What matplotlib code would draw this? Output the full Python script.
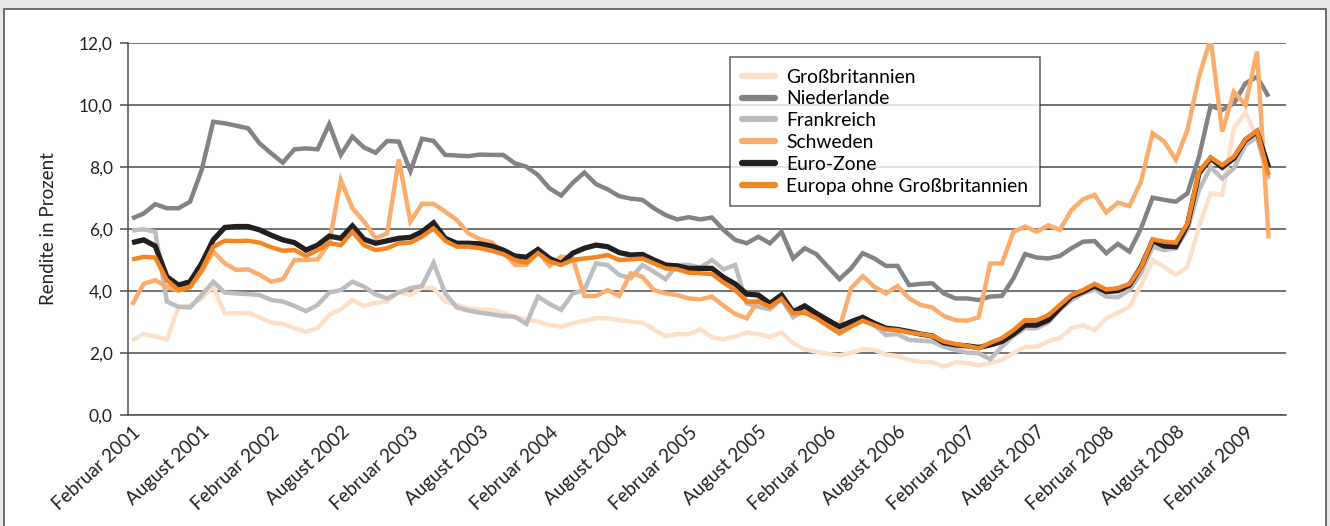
import matplotlib
matplotlib.use("Agg")
import matplotlib.pyplot as plt
from matplotlib.patches import Rectangle
from matplotlib.ticker import FuncFormatter

W, H, DPI = 1330, 526, 100

# monthly values Feb 2001 .. Apr 2009
n_months = 99
tick_labels = ["Februar 2001", "August 2001", "Februar 2002", "August 2002",
               "Februar 2003", "August 2003", "Februar 2004", "August 2004",
               "Februar 2005", "August 2005", "Februar 2006", "August 2006",
               "Februar 2007", "August 2007", "Februar 2008", "August 2008",
               "Februar 2009"]

grossbritannien = [
    2.40, 2.61, 2.53, 2.44, 3.49, 3.52, 3.76, 4.14, 3.28, 3.28,
    3.30, 3.15, 2.98, 2.94, 2.80, 2.69, 2.80, 3.23, 3.41, 3.71,
    3.52, 3.62, 3.66, 3.98, 3.87, 4.12, 4.09, 3.66, 3.55, 3.44,
    3.39, 3.39, 3.30, 3.15, 3.09, 3.01, 2.90, 2.85, 2.96, 3.04,
    3.12, 3.12, 3.06, 3.01, 2.98, 2.76, 2.55, 2.61, 2.61, 2.76,
    2.51, 2.44, 2.53, 2.66, 2.61, 2.52, 2.66, 2.31, 2.12, 2.04,
    1.97, 1.92, 2.01, 2.12, 2.10, 1.95, 1.90, 1.78, 1.72, 1.70,
    1.56, 1.70, 1.68, 1.60, 1.68, 1.78, 2.00, 2.20, 2.20, 2.38,
    2.48, 2.80, 2.90, 2.74, 3.12, 3.30, 3.49, 4.19, 5.00, 4.78,
    4.52, 4.78, 6.08, 7.15, 7.10, 9.25, 9.75, 8.98, 7.58]

niederlande = [
    6.34, 6.50, 6.80, 6.67, 6.67, 6.88, 7.90, 9.46, 9.41, 9.33,
    9.25, 8.76, 8.44, 8.14, 8.57, 8.60, 8.57, 9.38, 8.39, 8.98,
    8.63, 8.46, 8.84, 8.82, 7.87, 8.91, 8.84, 8.39, 8.37, 8.35,
    8.40, 8.39, 8.39, 8.12, 8.01, 7.74, 7.31, 7.08, 7.49, 7.82,
    7.45, 7.28, 7.06, 6.98, 6.94, 6.67, 6.45, 6.31, 6.38, 6.31,
    6.37, 5.97, 5.65, 5.54, 5.75, 5.54, 5.91, 5.05, 5.38, 5.19,
    4.78, 4.38, 4.73, 5.22, 5.05, 4.81, 4.81, 4.19, 4.23, 4.25,
    3.92, 3.76, 3.76, 3.71, 3.82, 3.84, 4.41, 5.19, 5.08, 5.05,
    5.13, 5.38, 5.59, 5.61, 5.22, 5.52, 5.27, 6.02, 7.01, 6.94,
    6.88, 7.15, 8.33, 9.97, 9.84, 10.05, 10.70, 10.91, 10.27]

frankreich = [
    5.95, 5.99, 5.91, 3.66, 3.49, 3.47, 3.87, 4.30, 3.95, 3.92,
    3.90, 3.87, 3.71, 3.66, 3.52, 3.35, 3.55, 3.95, 4.03, 4.30,
    4.14, 3.89, 3.76, 3.95, 4.09, 4.16, 4.91, 3.92, 3.47, 3.37,
    3.30, 3.25, 3.19, 3.17, 2.94, 3.82, 3.58, 3.39, 3.92, 4.03,
    4.89, 4.84, 4.52, 4.41, 4.84, 4.62, 4.38, 4.84, 4.84, 4.76,
    5.00, 4.70, 4.84, 3.60, 3.49, 3.41, 3.74, 3.15, 3.39, 3.19,
    2.96, 2.76, 2.90, 3.09, 2.90, 2.58, 2.61, 2.42, 2.40, 2.37,
    2.20, 2.10, 2.01, 1.99, 1.80, 2.20, 2.55, 2.80, 2.80, 2.98,
    3.40, 3.71, 3.92, 4.05, 3.82, 3.80, 4.03, 4.57, 5.43, 5.32,
    5.38, 5.97, 7.26, 7.99, 7.63, 7.96, 8.71, 8.96, 7.63]

schweden = [
    3.55, 4.23, 4.35, 4.14, 4.01, 4.14, 4.62, 5.27, 4.89, 4.68,
    4.70, 4.52, 4.30, 4.38, 5.00, 5.00, 5.02, 5.54, 7.58, 6.67,
    6.24, 5.70, 5.86, 8.25, 6.24, 6.81, 6.81, 6.56, 6.29, 5.86,
    5.67, 5.57, 5.27, 4.84, 4.84, 5.27, 4.81, 5.11, 5.05, 3.84,
    3.84, 4.03, 3.84, 4.57, 4.46, 4.03, 3.92, 3.87, 3.76, 3.73,
    3.82, 3.52, 3.26, 3.12, 3.71, 3.49, 3.82, 3.30, 3.35, 3.15,
    2.90, 2.80, 4.09, 4.48, 4.14, 3.92, 4.16, 3.76, 3.55, 3.47,
    3.19, 3.06, 3.04, 3.15, 4.89, 4.89, 5.91, 6.08, 5.91, 6.12,
    5.97, 6.61, 6.96, 7.10, 6.53, 6.85, 6.74, 7.53, 9.09, 8.82,
    8.23, 9.19, 10.91, 12.15, 9.14, 10.43, 10.00, 11.72, 5.70]

euro_zone = [
    5.56, 5.65, 5.45, 4.46, 4.19, 4.30, 4.89, 5.65, 6.05, 6.08,
    6.08, 5.97, 5.80, 5.65, 5.56, 5.32, 5.48, 5.77, 5.70, 6.10,
    5.67, 5.54, 5.62, 5.70, 5.73, 5.91, 6.20, 5.70, 5.54, 5.54,
    5.52, 5.45, 5.32, 5.13, 5.09, 5.34, 5.05, 4.89, 5.22, 5.38,
    5.48, 5.43, 5.24, 5.16, 5.18, 5.00, 4.84, 4.81, 4.73, 4.73,
    4.73, 4.44, 4.23, 3.90, 3.87, 3.60, 3.87, 3.33, 3.52, 3.28,
    3.06, 2.85, 3.01, 3.15, 2.96, 2.80, 2.76, 2.69, 2.61, 2.55,
    2.33, 2.26, 2.23, 2.18, 2.26, 2.37, 2.61, 2.90, 2.90, 3.06,
    3.45, 3.82, 3.98, 4.16, 3.98, 4.01, 4.19, 4.78, 5.62, 5.45,
    5.43, 6.13, 7.80, 8.28, 7.99, 8.28, 8.87, 9.14, 7.99]

europa_ohne_gb = [
    5.02, 5.10, 5.08, 4.35, 4.03, 4.12, 4.68, 5.43, 5.62, 5.61,
    5.62, 5.56, 5.41, 5.30, 5.32, 5.13, 5.32, 5.54, 5.48, 5.91,
    5.48, 5.32, 5.38, 5.54, 5.56, 5.75, 6.02, 5.62, 5.43, 5.43,
    5.38, 5.30, 5.19, 5.00, 4.91, 5.22, 4.95, 4.84, 5.00, 5.05,
    5.09, 5.16, 5.00, 5.02, 5.05, 4.89, 4.73, 4.70, 4.59, 4.57,
    4.55, 4.27, 4.03, 3.66, 3.66, 3.49, 3.75, 3.28, 3.30, 3.12,
    2.87, 2.63, 2.85, 3.04, 2.90, 2.76, 2.74, 2.66, 2.61, 2.55,
    2.37, 2.29, 2.23, 2.15, 2.33, 2.48, 2.74, 3.06, 3.06, 3.22,
    3.55, 3.87, 4.03, 4.23, 4.05, 4.09, 4.23, 4.76, 5.67, 5.59,
    5.56, 6.18, 7.85, 8.31, 8.06, 8.33, 8.89, 9.17, 7.74]

series = [
    ("Großbritannien", grossbritannien, "#fde0c9", 3.2),
    ("Niederlande", niederlande, "#838385", 3.2),
    ("Frankreich", frankreich, "#bdbdc0", 3.2),
    ("Schweden", schweden, "#fbad6d", 3.2),
    ("Euro-Zone", euro_zone, "#231f20", 3.8),
    ("Europa ohne Großbritannien", europa_ohne_gb, "#f28625", 3.2),
]

plt.rcParams['font.family'] = ['Lato', 'DejaVu Sans']

fig = plt.figure(figsize=(W / DPI, H / DPI), dpi=DPI, facecolor="#e6e7e8")

# white panel with thin frame, as in the source page
fig.patches.append(Rectangle((4 / W, -0.02), (1326 - 4) / W, (H - 9) / H + 0.02,
                             transform=fig.transFigure, facecolor="white",
                             edgecolor="#555555", lw=1.2, zorder=-10))

ax = fig.add_axes([128 / W, (H - 415) / H, (1286 - 128) / W, (415 - 43) / H])
ax.set_facecolor("none")

x = list(range(n_months))
for name, vals, col, lw in series:
    ax.plot(x, vals, color=col, lw=lw, label=name, solid_joinstyle="miter",
            solid_capstyle="butt", zorder=3)

ax.set_xlim(-0.35, 99.5)
ax.set_ylim(0, 12)
ax.set_yticks(range(0, 13, 2))
ax.yaxis.set_major_formatter(FuncFormatter(lambda v, p: f"{v:.1f}".replace(".", ",")))
ax.grid(axis="y", color="#4d4d4d", lw=1.1, zorder=1)
ax.set_axisbelow(True)

for s in ["top", "right"]:
    ax.spines[s].set_visible(False)
ax.spines["left"].set_color("#4d4d4d")
ax.spines["bottom"].set_color("#4d4d4d")
ax.spines["left"].set_linewidth(1.1)
ax.spines["bottom"].set_linewidth(1.1)

ax.tick_params(axis="y", length=6, width=1.1, color="#4d4d4d", labelsize=12.5,
               pad=5, labelcolor="#222222")
ax.set_xticks(range(0, n_months, 6))
ax.set_xticklabels(tick_labels, rotation=43, ha="right", va="top",
                   rotation_mode="anchor", fontsize=13.5, color="#222222")
ax.tick_params(axis="x", length=0, pad=6)

ax.set_ylabel("Rendite in Prozent", fontsize=13.5, color="#222222", labelpad=16)

leg = ax.legend(loc="upper left", bbox_to_anchor=(730 / W, 1 - 57 / H),
                bbox_transform=fig.transFigure, frameon=True, fancybox=False,
                fontsize=13.9, handlelength=1.75, handletextpad=0.55,
                labelspacing=0.25, borderpad=0.6, borderaxespad=0)
leg.get_frame().set_edgecolor("#333333")
leg.get_frame().set_linewidth(1.1)
for h in leg.get_lines():
    h.set_linewidth(4.5)
    h.set_solid_capstyle("round")

fig.savefig("out.png", dpi=DPI, facecolor=fig.get_facecolor())
